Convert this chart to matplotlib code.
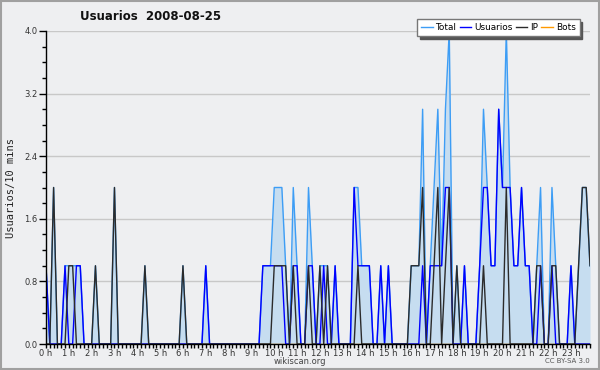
import matplotlib
matplotlib.use('Agg')
import matplotlib.pyplot as plt
from matplotlib.patches import Rectangle
from matplotlib.ticker import MultipleLocator, FixedLocator

# Datos por intervalos de 10 minutos (144 puntos)
total = [1, 0, 2, 0, 0, 1, 1, 1, 1, 1, 0, 0,
         0, 1, 0, 0, 0, 0, 2, 0, 0, 0, 0, 0,
         0, 0, 1, 0, 0, 0, 0, 0, 0, 0, 0, 0,
         1, 0, 0, 0, 0, 0, 1, 0, 0, 0, 0, 0,
         0, 0, 0, 0, 0, 0, 0, 0, 0, 1, 1, 1,
         2, 2, 2, 1, 0, 2, 1, 0, 0, 2, 1, 0,
         1, 1, 1, 0, 1, 0, 0, 0, 0, 2, 2, 1,
         1, 1, 0, 0, 1, 0, 1, 0, 0, 0, 0, 0,
         1, 1, 1, 3, 0, 1, 2, 3, 1, 3, 4, 0,
         1, 0, 1, 0, 0, 0, 1, 3, 2, 1, 1, 3,
         2, 4, 2, 1, 1, 2, 1, 1, 0, 1, 2, 0,
         0, 2, 1, 0, 0, 0, 1, 0, 1, 2, 2, 1]

usuarios = [1, 0, 0, 0, 0, 1, 0, 0, 1, 1, 0, 0,
            0, 0, 0, 0, 0, 0, 0, 0, 0, 0, 0, 0,
            0, 0, 0, 0, 0, 0, 0, 0, 0, 0, 0, 0,
            0, 0, 0, 0, 0, 0, 1, 0, 0, 0, 0, 0,
            0, 0, 0, 0, 0, 0, 0, 0, 0, 1, 1, 1,
            1, 1, 1, 0, 0, 1, 1, 0, 0, 1, 1, 0,
            0, 1, 0, 0, 1, 0, 0, 0, 0, 2, 1, 1,
            1, 1, 0, 0, 1, 0, 1, 0, 0, 0, 0, 0,
            0, 0, 0, 1, 0, 1, 1, 1, 1, 2, 2, 0,
            0, 0, 1, 0, 0, 0, 1, 2, 2, 1, 1, 3,
            2, 2, 2, 1, 1, 2, 1, 1, 0, 0, 1, 0,
            0, 1, 0, 0, 0, 0, 1, 0, 0, 0, 0, 0]

ip = [0, 0, 2, 0, 0, 0, 1, 1, 0, 0, 0, 0,
      0, 1, 0, 0, 0, 0, 2, 0, 0, 0, 0, 0,
      0, 0, 1, 0, 0, 0, 0, 0, 0, 0, 0, 0,
      1, 0, 0, 0, 0, 0, 0, 0, 0, 0, 0, 0,
      0, 0, 0, 0, 0, 0, 0, 0, 0, 0, 0, 0,
      1, 1, 1, 1, 0, 1, 0, 0, 0, 1, 0, 0,
      1, 0, 1, 0, 0, 0, 0, 0, 0, 0, 1, 0,
      0, 0, 0, 0, 0, 0, 0, 0, 0, 0, 0, 0,
      1, 1, 1, 2, 0, 0, 1, 2, 0, 1, 2, 0,
      1, 0, 0, 0, 0, 0, 0, 1, 0, 0, 0, 0,
      0, 2, 0, 0, 0, 0, 0, 0, 0, 1, 1, 0,
      0, 1, 1, 0, 0, 0, 0, 0, 1, 2, 2, 1]

bots = [0] * 144

hours = list(range(24))
hour_labels = [f'{h} h' for h in hours]
y_ticks = [0.0, 0.8, 1.6, 2.4, 3.2, 4.0]

bg = '#eeeff1'
x = list(range(len(total)))

fig = plt.figure(figsize=(6, 3.7), dpi=100, facecolor=bg)
ax = fig.add_axes([46 / 600, 26 / 370, 544 / 600, 313 / 370])
ax.set_facecolor(bg)

# Relleno y series
ax.fill_between(x, total, 0, color='#c6ddf0', lw=0, zorder=1)
ax.plot(x, bots, color='#ff9900', lw=1, label='Bots', zorder=2)
ax.plot(x, total, color='#3d9df5', lw=1, label='Total', zorder=3)
ax.plot(x, usuarios, color='#0000ff', lw=1, label='Usuarios', zorder=4)
ax.plot(x, ip, color='#2b2b2b', lw=1, label='IP', zorder=5)

ax.set_xlim(0, 143)
ax.set_ylim(0, 4.0)

ax.yaxis.set_major_locator(FixedLocator(y_ticks))
ax.yaxis.set_minor_locator(MultipleLocator(0.2))
ax.set_yticklabels([f'{v:.1f}' for v in y_ticks])
ax.xaxis.set_major_locator(FixedLocator([h * 6 for h in hours]))
ax.xaxis.set_minor_locator(MultipleLocator(1))
ax.set_xticklabels(hour_labels)

ax.tick_params(axis='y', which='major', length=5, width=1, labelsize=6,
               labelcolor='#333333', pad=1)
ax.tick_params(axis='y', which='minor', length=3, width=1)
ax.tick_params(axis='x', which='both', length=3, width=1, labelsize=6,
               labelcolor='#333333', pad=0.5)

ax.grid(axis='y', which='major', color='#c8c8c8', lw=1, zorder=0)
ax.set_axisbelow(True)
for s in ['top', 'right']:
    ax.spines[s].set_visible(False)
for s in ['left', 'bottom']:
    ax.spines[s].set_linewidth(1)
    ax.spines[s].set_zorder(6)

ax.set_ylabel('Usuarios/10 mins', family='DejaVu Sans Mono', fontsize=7.5,
              color='#222222')
ax.yaxis.set_label_coords(-0.055, 0.5)

fig.text(151 / 600, 1 - 17 / 370, 'Usuarios  2008-08-25', ha='center',
         va='center', fontsize=8.5, fontweight='bold', color='#111111')
fig.text(0.5, 1 - 361 / 370, 'wikiscan.org', ha='center', va='center',
         fontsize=6, color='#444444')
fig.text(590 / 600, 1 - 361 / 370, 'CC BY-SA 3.0', ha='right', va='center',
         fontsize=5, color='#555555')

handles, labels = ax.get_legend_handles_labels()
order = ['Total', 'Usuarios', 'IP', 'Bots']
hmap = dict(zip(labels, handles))
leg = fig.legend([hmap[k] for k in order], order, loc='upper right',
                 bbox_to_anchor=(584 / 600, 1 - 15 / 370), ncol=4,
                 fontsize=6.4, frameon=True, fancybox=False,
                 edgecolor='#777777', framealpha=1, handlelength=1.3,
                 handletextpad=0.3, columnspacing=0.4, borderpad=0.45,
                 shadow={'color': '#555555', 'alpha': 1})
leg.get_frame().set_linewidth(1)

fig.patches.append(Rectangle((0.001, 0.002), 0.997, 0.995,
                             transform=fig.transFigure, fill=False,
                             edgecolor='#a0a0a0', lw=1.5))

fig.savefig('out.png', dpi=100, facecolor=bg)
